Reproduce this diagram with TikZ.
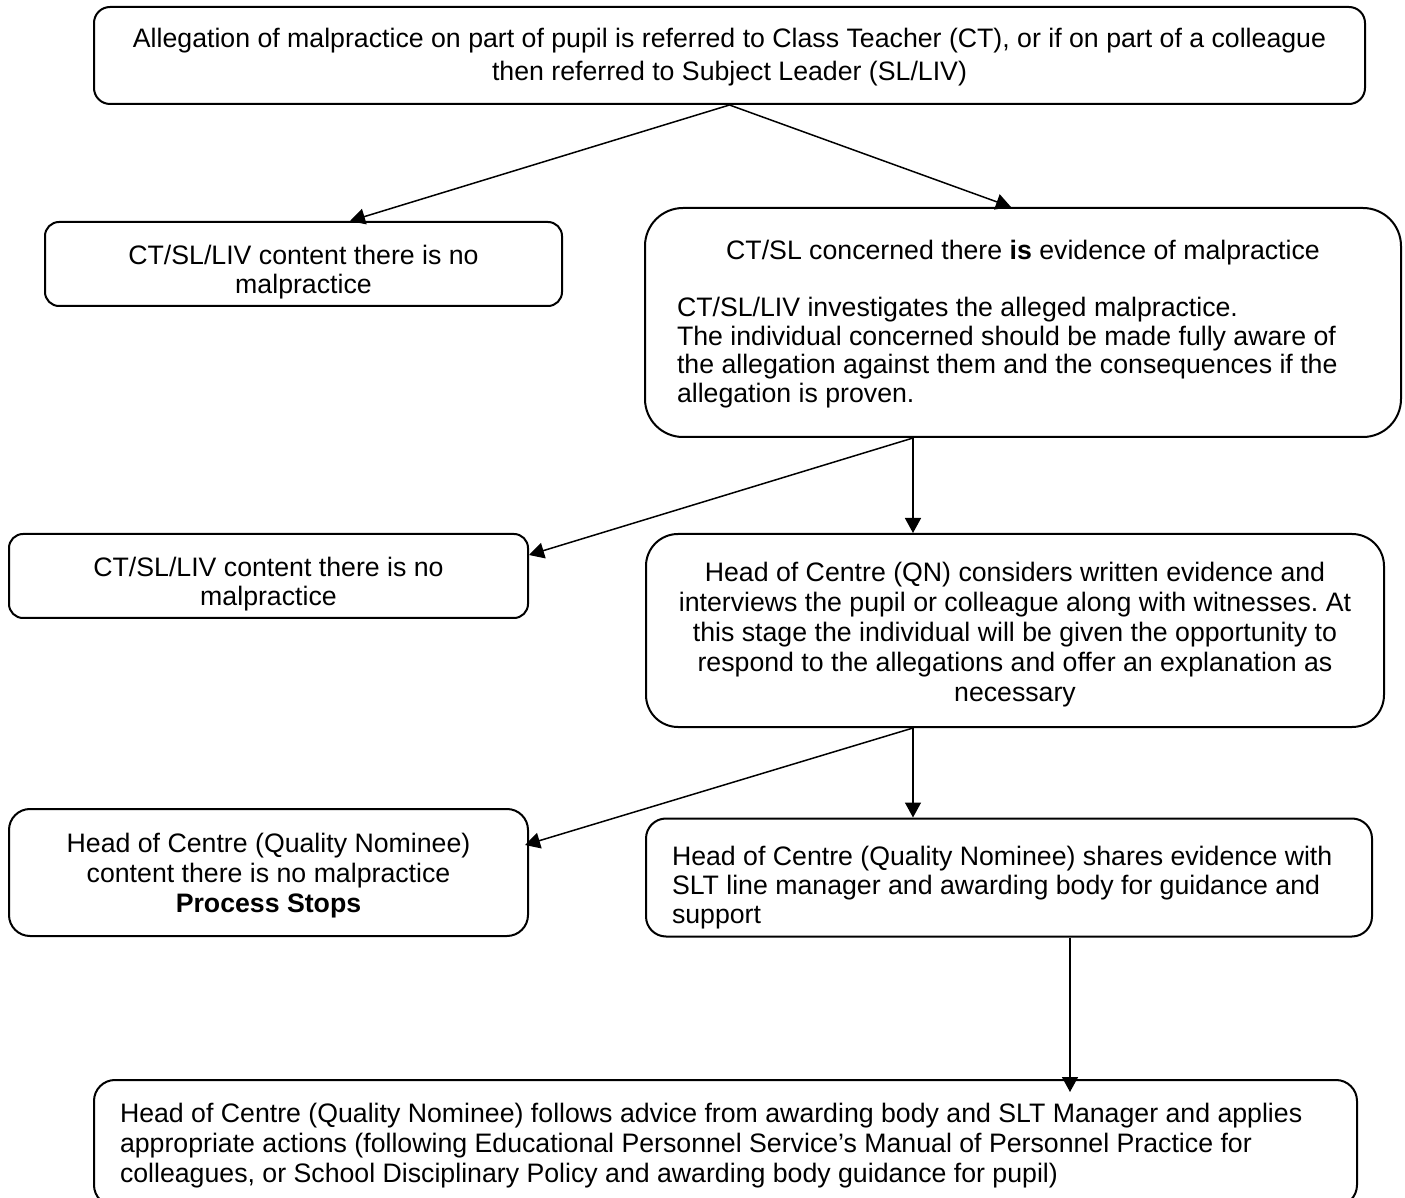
\documentclass[tikz,border=0pt]{standalone}
\usepackage{fontspec}
\setmainfont{Liberation Sans}
\frenchspacing
\usetikzlibrary{arrows.meta}
\tikzset{box/.style={draw,line width=1pt,inner sep=0pt,font=\fontsize{13.35}{14.5}\selectfont}}
\tikzset{arr/.style={line width=0.75pt,-{Triangle[length=7.5pt,width=8pt]}}}

\begin{document}
\begin{tikzpicture}[x=0.5pt,y=-0.5pt]
                  \path[fill=white,use as bounding box] (0,0) rectangle (1405,1198);
                  \node[box,align=flush center,text width=620pt,minimum width=635.5pt,minimum height=48.5pt,rounded corners=8pt,text height=11.65pt,font=\fontsize{13.35}{16.5}\selectfont] (alleg) at (729.5,55.5) {Allegation of malpractice on part of pupil is referred to Class Teacher (CT), or if on part of a colleague\\then referred to Subject Leader (SL/LIV)};
                  \node[box,align=flush center,text width=240pt,minimum width=258.5pt,minimum height=42pt,rounded corners=7pt,text height=17.65pt] (ctnone) at (303.5,264) {CT/SL/LIV content there is no\\malpractice};
                  \node[box,align=flush left,text width=346pt,minimum width=378pt,minimum height=114.5pt,rounded corners=19pt,text height=11.15pt,font=\fontsize{13.35}{14.25}\selectfont] (concern) at (1023,322.5) {\makebox[346pt][c]{CT/SL concerned there \textbf{is} evidence of malpractice}\\[14.25pt]CT/SL/LIV investigates the alleged malpractice.\\The individual concerned should be made fully aware of\\the allegation against them and the consequences if the\\allegation is proven.};
                  \node[box,align=flush center,text width=240pt,minimum width=259.5pt,minimum height=42pt,rounded corners=7pt,text height=17.65pt] (ctnonetwo) at (268.5,576) {CT/SL/LIV content there is no\\malpractice};
                  \node[box,align=flush center,text width=355pt,minimum width=369pt,minimum height=96.5pt,rounded corners=16pt,text height=13.65pt,font=\fontsize{13.35}{15}\selectfont] (hoc) at (1015,630.5) {Head of Centre (QN) considers written evidence and\\interviews the pupil or colleague along with witnesses. At\\this stage the individual will be given the opportunity to\\respond to the allegations and offer an explanation as\\necessary};
                  \node[box,align=flush center,text width=240pt,minimum width=259.5pt,minimum height=63.5pt,rounded corners=10.5pt,text height=12.65pt,font=\fontsize{13.35}{15}\selectfont] (hocstop) at (268.5,872.5) {Head of Centre (Quality Nominee)\\content there is no malpractice\\\textbf{Process Stops}};
                  \node[box,align=flush left,text width=337pt,minimum width=363pt,minimum height=59pt,rounded corners=10pt,text height=19.65pt] (hocshare) at (1009,877.5) {Head of Centre (Quality Nominee) shares evidence with\\SLT line manager and awarding body for guidance and\\support};
                  \node[box,align=flush left,text width=605.5pt,minimum width=631.5pt,minimum height=63pt,rounded corners=10.5pt,text height=12.65pt,font=\fontsize{13.35}{15}\selectfont] (hocact) at (725.5,1143) {Head of Centre (Quality Nominee) follows advice from awarding body and SLT Manager and applies\\appropriate actions (following Educational Personnel Service’s Manual of Personnel Practice for\\colleagues, or School Disciplinary Policy and awarding body guidance for pupil)};
                  \coordinate (forka) at ([xshift=-55pt]concern.south);
                  \coordinate (forkb) at ([xshift=-51pt]hoc.south);
                  \coordinate (forkc) at ([xshift=30.5pt]hocshare.south);
                  \draw[arr] (alleg.south) -- ([xshift=23.25pt]ctnone.north);
                  \draw[arr] (alleg.south) -- ([xshift=-6pt]concern.north);
                  \draw[arr] (forka) -- (forka |- hoc.north);
                  \draw[arr] (forka) -- ([yshift=10.5pt]ctnonetwo.east);
                  \draw[arr] (forkb) -- (forkb |- hocshare.north);
                  \draw[arr] (forkb) -- ([xshift=-2pt,yshift=13.75pt]hocstop.east);
                  \draw[arr,shorten >=-6.5pt] (forkc) -- (forkc |- hocact.north);
              \end{tikzpicture}
\end{document}
